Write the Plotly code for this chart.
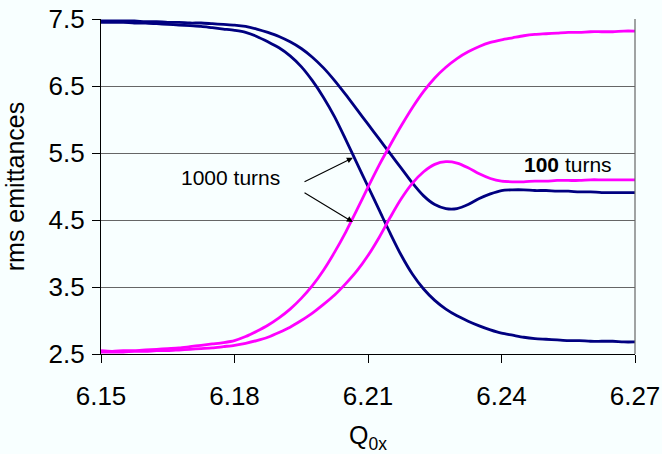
import plotly.graph_objects as go

# Tune values Q0x at which the emittances were sampled (step 0.0025)
q0x = [6.1500, 6.1525, 6.1550, 6.1575, 6.1600, 6.1625, 6.1650, 6.1675, 6.1700,
       6.1725, 6.1750, 6.1775, 6.1800, 6.1825, 6.1850, 6.1875, 6.1900, 6.1925,
       6.1950, 6.1975, 6.2000, 6.2025, 6.2050, 6.2075, 6.2100, 6.2125, 6.2150,
       6.2175, 6.2200, 6.2225, 6.2250, 6.2275, 6.2300, 6.2325, 6.2350, 6.2375,
       6.2400, 6.2425, 6.2450, 6.2475, 6.2500, 6.2525, 6.2550, 6.2575, 6.2600,
       6.2625, 6.2650, 6.2675, 6.2700]

# Horizontal rms emittance after 1000 turns
eps_x_1000 = [7.45, 7.45, 7.45, 7.44, 7.44, 7.43, 7.42, 7.41, 7.40,
              7.39, 7.37, 7.35, 7.33, 7.30, 7.24, 7.16, 7.07, 6.95,
              6.79, 6.58, 6.33, 6.04, 5.70, 5.35, 5.00, 4.65, 4.30,
              3.97, 3.69, 3.47, 3.30, 3.17, 3.07, 2.99, 2.92, 2.86,
              2.81, 2.78, 2.75, 2.73, 2.72, 2.71, 2.70, 2.70, 2.69,
              2.69, 2.69, 2.68, 2.68]
# Vertical rms emittance after 1000 turns
eps_y_1000 = [2.55, 2.54, 2.55, 2.55, 2.56, 2.57, 2.58, 2.59, 2.61,
              2.63, 2.65, 2.67, 2.70, 2.76, 2.84, 2.93, 3.04, 3.17,
              3.33, 3.52, 3.75, 4.02, 4.32, 4.65, 4.99, 5.32, 5.62,
              5.91, 6.18, 6.42, 6.62, 6.78, 6.91, 7.01, 7.09, 7.15,
              7.19, 7.22, 7.25, 7.27, 7.28, 7.29, 7.30, 7.30, 7.31,
              7.31, 7.31, 7.32, 7.32]
# Horizontal rms emittance after 100 turns
eps_x_100 = [7.47, 7.47, 7.47, 7.47, 7.46, 7.46, 7.45, 7.45, 7.44,
             7.44, 7.43, 7.42, 7.41, 7.39, 7.35, 7.30, 7.24, 7.16,
             7.06, 6.93, 6.77, 6.58, 6.37, 6.15, 5.93, 5.71, 5.49,
             5.27, 5.05, 4.86, 4.73, 4.67, 4.67, 4.73, 4.82, 4.89,
             4.94, 4.95, 4.95, 4.94, 4.94, 4.93, 4.93, 4.92, 4.92,
             4.91, 4.91, 4.91, 4.91]
# Vertical rms emittance after 100 turns
eps_y_100 = [2.53, 2.53, 2.53, 2.54, 2.54, 2.55, 2.55, 2.56, 2.57,
             2.58, 2.59, 2.61, 2.63, 2.66, 2.70, 2.75, 2.82, 2.90,
             3.00, 3.11, 3.24, 3.38, 3.55, 3.74, 3.97, 4.24, 4.54,
             4.82, 5.05, 5.22, 5.33, 5.37, 5.35, 5.28, 5.19, 5.12,
             5.08, 5.07, 5.07, 5.08, 5.08, 5.09, 5.09, 5.09, 5.10,
             5.10, 5.10, 5.10, 5.10]

x_ticks = [6.15, 6.18, 6.21, 6.24, 6.27]
y_ticks = [2.5, 3.5, 4.5, 5.5, 6.5, 7.5]

NAVY = "#000080"
MAGENTA = "#FF00FF"
FONT = "Liberation Sans, Arial, Helvetica, sans-serif"
BG = "#F8FFFF"

fig = go.Figure()
for ys, col in [(eps_x_100, NAVY), (eps_x_1000, NAVY),
                (eps_y_100, MAGENTA), (eps_y_1000, MAGENTA)]:
    fig.add_trace(go.Scatter(x=q0x, y=ys, mode="lines",
                             line=dict(color=col, width=2.8, shape="spline", smoothing=0.8),
                             showlegend=False, hoverinfo="skip"))

# Labels for the two turn counts
fig.add_annotation(x=6.179, y=5.14, text="1000 turns", showarrow=False,
                   font=dict(family=FONT, size=21, color="black"))
fig.add_annotation(x=6.2549, y=5.33, text="<b>100</b> turns", showarrow=False,
                   font=dict(family=FONT, size=21, color="black"))
for hx, hy, tx, ty in [(6.2066, 5.43, 6.1954, 5.06), (6.2066, 4.47, 6.1954, 4.92)]:
    fig.add_annotation(x=hx, y=hy, ax=tx, ay=ty, xref="x", yref="y",
                       axref="x", ayref="y", text="", showarrow=True,
                       arrowhead=2, arrowsize=1.1, arrowwidth=1.1, arrowcolor="black")

# Right-hand frame of the plot area
fig.add_shape(type="line", xref="paper", yref="paper", x0=1, x1=1, y0=0, y1=1,
              line=dict(color="#666666", width=1.2))

fig.update_layout(
    width=662, height=454,
    margin=dict(l=101, r=27, t=19, b=100, autoexpand=False),
    paper_bgcolor=BG, plot_bgcolor=BG,
    font=dict(family=FONT, size=26, color="black"),
    xaxis=dict(range=[6.15, 6.27], tickvals=x_ticks, tickformat=".2f",
               automargin=False, showgrid=False, zeroline=False, showline=True,
               linecolor="black", linewidth=1.2, ticks="outside", ticklen=8,
               tickcolor="black", tickwidth=1.2, ticklabelstandoff=11,
               tickfont=dict(size=26),
               title=dict(text="Q<sub>0x</sub>", font=dict(size=25), standoff=16)),
    yaxis=dict(range=[2.5, 7.5], tickvals=y_ticks, tickformat=".1f",
               automargin=False, showgrid=True, gridcolor="#666666", gridwidth=1,
               zeroline=False, showline=True, linecolor="black", linewidth=1.2,
               ticks="outside", ticklen=8, tickcolor="black", tickwidth=1.2,
               ticklabelstandoff=2, tickfont=dict(size=26),
               title=dict(text="rms emittances", font=dict(size=25), standoff=16)),
)

fig.write_html("out.html")
